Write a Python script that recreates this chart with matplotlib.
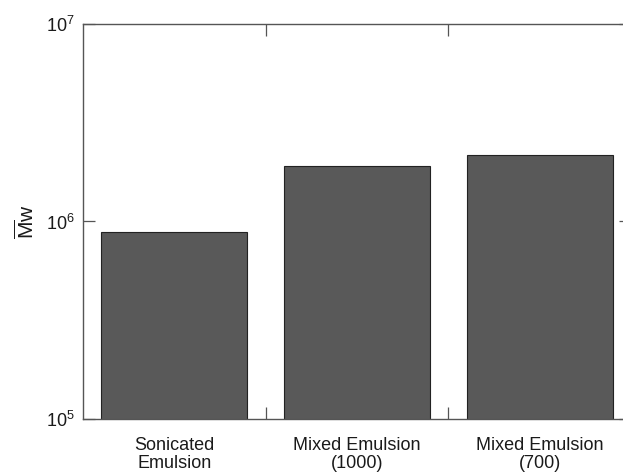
import numpy as np
import matplotlib
matplotlib.use("Agg")
import matplotlib.pyplot as plt

# Data
categories = ["Sonicated\nEmulsion", "Mixed Emulsion\n(1000)", "Mixed Emulsion\n(700)"]
mw_values = [8.8e5, 1.9e6, 2.18e6]

BAR_COLOR = "#595959"
LINE_COLOR = "#555555"
TEXT_COLOR = "#1a1a1a"

plt.rcParams['font.family'] = ['Liberation Sans', 'DejaVu Sans']
plt.rcParams['mathtext.fontset'] = 'custom'
plt.rcParams['mathtext.rm'] = 'Liberation Sans'
plt.rcParams['mathtext.it'] = 'Liberation Sans'

fig = plt.figure(figsize=(6.23, 4.74), dpi=100)
# axes run past the right edge of the figure, like the original crop
ax = fig.add_axes([83 / 623, 55 / 474, 548 / 623, 395 / 474])

x = np.arange(len(categories))
ax.bar(x, mw_values, width=0.8, color=BAR_COLOR,
       edgecolor="#222222", linewidth=0.8)

ax.set_yscale("log")
ax.set_ylim(1e5, 1e7)
ax.set_xlim(-0.5, len(categories) - 0.5)

ax.set_yticks([1e5, 1e6, 1e7])
ax.yaxis.set_minor_locator(matplotlib.ticker.NullLocator())

# labels at the bar centres, ticks at the boundaries
ax.set_xticks(x)
ax.set_xticklabels(categories, fontsize=13, color=TEXT_COLOR, linespacing=1.1)
ax.tick_params(axis="x", which="major", length=0, pad=13)
ax.set_xticks(x[:-1] + 0.5, minor=True)
ax.tick_params(axis="x", which="minor", direction="in", length=8.5,
               top=True, bottom=True, width=0.9, color=LINE_COLOR)
ax.tick_params(axis="y", which="major", direction="in", length=8.5,
               left=True, right=True, width=0.9, color=LINE_COLOR,
               labelsize=13, labelcolor=TEXT_COLOR, pad=6)

for s in ax.spines.values():
    s.set_color(LINE_COLOR)
    s.set_linewidth(1.0)

ax.set_ylabel(r"$\overline{\mathrm{M}}\mathrm{w}$", fontsize=15,
              color=TEXT_COLOR, labelpad=6)

fig.savefig("out.png", dpi=100)
